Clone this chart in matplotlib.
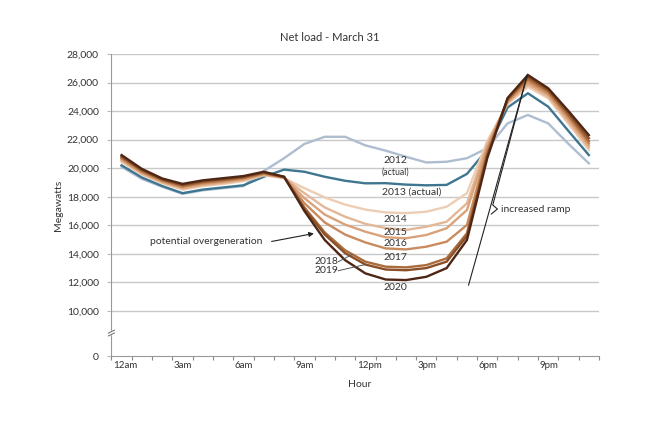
import matplotlib.pyplot as plt

plt.rcParams['font.family'] = ['Lato', 'DejaVu Sans']

# hour of day, points sit at the middle of each hour
hours = [h + 0.5 for h in range(24)]

y2012 = [20100, 19250, 18700, 18200, 18450, 18600, 18750, 19800, 20700, 21700, 22200, 22200,
         21600, 21230, 20800, 20400, 20450, 20700, 21400, 23140, 23730, 23140, 21700, 20340]
y2013 = [20200, 19350, 18750, 18250, 18500, 18650, 18800, 19400, 19900, 19750, 19400, 19120,
         18940, 18950, 18850, 18800, 18830, 19600, 21300, 24250, 25250, 24310, 22600, 20920]
y2014 = [20450, 19550, 18950, 18500, 18750, 18900, 19100, 19500, 19300, 18600, 17950, 17450,
         17100, 16900, 16850, 16950, 17300, 18250, 21900, 24500, 25700, 24900, 23100, 21270]
y2015 = [20530, 19620, 19000, 18570, 18820, 18970, 19160, 19540, 19320, 18250, 17250, 16600,
         16100, 15800, 15670, 15900, 16250, 17540, 21700, 24580, 25850, 25020, 23250, 21450]
y2016 = [20600, 19680, 19060, 18630, 18880, 19030, 19220, 19580, 19340, 17900, 16750, 16050,
         15550, 15160, 15090, 15320, 15790, 17070, 21500, 24650, 25950, 25140, 23400, 21600]
y2017 = [20680, 19750, 19110, 18700, 18950, 19100, 19280, 19620, 19360, 17550, 16200, 15350,
         14800, 14380, 14310, 14500, 14850, 16020, 21300, 24720, 26100, 25260, 23550, 21750]
y2018 = [20750, 19810, 19170, 18760, 19010, 19160, 19330, 19660, 19380, 17250, 15500, 14250,
         13450, 13100, 13050, 13210, 13680, 15440, 21000, 24790, 26250, 25380, 23700, 21900]
y2019 = [20830, 19880, 19220, 18830, 19080, 19230, 19390, 19700, 19390, 17150, 15350, 14050,
         13250, 12900, 12850, 13000, 13450, 15250, 20900, 24850, 26400, 25490, 23850, 22100]
y2020 = [20920, 19950, 19280, 18900, 19150, 19300, 19450, 19750, 19400, 17000, 14970, 13560,
         12630, 12200, 12160, 12390, 13000, 14970, 20700, 24920, 26530, 25600, 24000, 22320]

series = [y2012, y2013, y2014, y2015, y2016, y2017, y2018, y2019, y2020]
colors = ['#aebdd0', '#3e7690', '#edcdb3', '#e3b797', '#d9a27b', '#c98b5e',
          '#ab6c3d', '#8a4f27', '#4e2615']

tick_hours = [0, 3, 6, 9, 12, 15, 18, 21]
tick_names = ['12am', '3am', '6am', '9am', '12pm', '3pm', '6pm', '9pm']
ytick_vals = [10000, 12000, 14000, 16000, 18000, 20000, 22000, 24000, 26000, 28000]
zero_pos = 6840   # where the "0" sits below the axis break

txt = '#333333'
fig = plt.figure(figsize=(6.68, 4.26), dpi=100)
ax = fig.add_axes([0.1668, 0.1643, 0.7299, 0.7089])

for vals, c in zip(series, colors):
    ax.plot(hours, vals, color=c, lw=1.7, solid_joinstyle='miter', zorder=3)

ax.set_xlim(0, 24)
ax.set_ylim(zero_pos, 28000)

ax.set_xticks(range(25))
ax.set_xticklabels(['' for _ in range(25)])
for h, name in zip(tick_hours, tick_names):
    ax.text(h + 0.08, -0.032, name, transform=ax.get_xaxis_transform(),
            ha='left', va='center', fontsize=7, color=txt)
ax.tick_params(axis='x', length=3, color='#888888')

ax.set_yticks([zero_pos] + ytick_vals)
ax.set_yticklabels(['0'] + ['{:,}'.format(v) for v in ytick_vals], fontsize=7.5, color=txt)
ax.tick_params(axis='y', length=3, color='#bbbbbb', pad=6)
for v in ytick_vals:
    ax.axhline(v, color='#c8c8c8', lw=1, zorder=1)

for s in ['top', 'right']:
    ax.spines[s].set_visible(False)
ax.spines['left'].set_color('#999999')
ax.spines['bottom'].set_color('#999999')

# axis break mark
yt = ax.get_yaxis_transform()
ax.plot([-0.006, 0.006], [8350, 8550], color='white', lw=3, transform=yt, clip_on=False, zorder=5)
ax.plot([-0.006, 0.006], [8250, 8450], color='#777777', lw=0.8, transform=yt, clip_on=False, zorder=6)
ax.plot([-0.006, 0.006], [8450, 8650], color='#777777', lw=0.8, transform=yt, clip_on=False, zorder=6)

fig.text(0.494, 0.911, 'Net load - March 31', ha='center', va='center', fontsize=8, color=txt)
fig.text(0.087, 0.519, 'Megawatts', rotation=90, ha='center', va='center', fontsize=7.5, color=txt)
fig.text(0.538, 0.098, 'Hour', ha='center', va='center', fontsize=7.5, color=txt)

# series labels
lab = dict(ha='center', va='center', fontsize=7.5, color=txt, zorder=7)
ax.text(14.0, 20520, '2012', **lab)
ax.text(14.0, 19710, '(actual)', ha='center', va='center', fontsize=6.3, color=txt)
ax.text(14.8, 18310, '2013 (actual)', **lab)
ax.text(14.0, 16420, '2014', **lab)
ax.text(14.0, 15510, '2015', **lab)
ax.text(14.0, 14690, '2016', **lab)
ax.text(14.0, 13730, '2017', **lab)
ax.text(10.6, 13450, '2018', **lab)
ax.text(10.6, 12820, '2019', **lab)
ax.text(14.0, 11650, '2020', **lab)
ax.plot([11.17, 11.85], [13450, 13950], color='#555555', lw=0.7, zorder=6)
ax.plot([11.17, 12.5], [12820, 13250], color='#555555', lw=0.7, zorder=6)

ax.text(4.67, 14830, 'potential overgeneration', ha='center', va='center', fontsize=7.5, color=txt)
ax.annotate('', xy=(10.1, 15460), xytext=(7.75, 14830),
            arrowprops=dict(arrowstyle='-|>', color='#222222', lw=0.8, mutation_scale=7))

# increased ramp marker
ax.plot([17.58, 20.47], [11810, 26530], color='#222222', lw=0.8, zorder=6)
ax.plot([20.47, 18.77, 19.0, 18.7], [26530, 17420, 17140, 16790], color='#222222', lw=0.8, zorder=6)
ax.text(19.2, 17080, 'increased ramp', ha='left', va='center', fontsize=7.5, color=txt)

plt.savefig('out.png', dpi=100)
